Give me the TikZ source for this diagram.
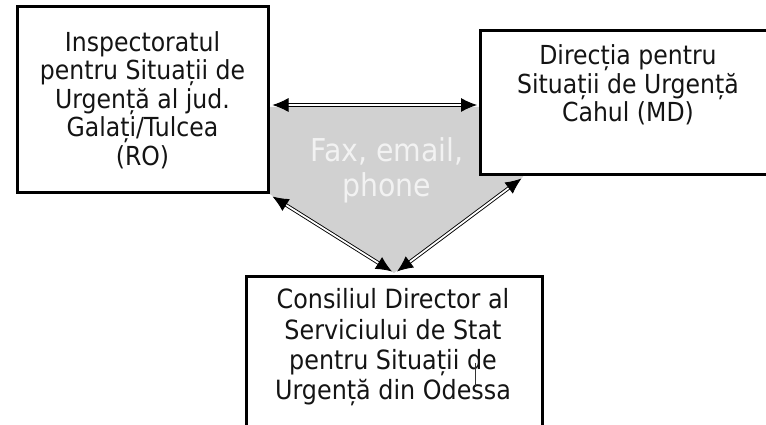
\documentclass[tikz,border=0pt]{standalone}
\usepackage{fontspec}
\setmainfont{DejaVu Sans}[FakeStretch=0.9]
\usetikzlibrary{arrows.meta}
\begin{document}
\begin{tikzpicture}[x=1pt,y=1pt,
  box/.style={draw=black, line width=3pt, fill=white, inner sep=0pt},
  boxtext/.style={align=center, font=\fontsize{26.2}{28.6}\selectfont, text=black!92, inner sep=0pt},
  tipshape/.style={},
  link/.style={draw=black, line width=0.9pt, double=white, double distance=1.8pt,
    {Latex[length=16pt,width=14pt]}-{Latex[length=16pt,width=14pt]}}
]
\useasboundingbox (0,0) rectangle (766,425);
\clip (0,0) rectangle (766,425);
\fill[white] (0,0) rectangle (766,425);
% gray pentagon
\fill[black!18] (268,318) -- (523,318) -- (523,248) -- (394,152) -- (268,232) -- cycle;
% boxes
\node[box, minimum width=251pt, minimum height=186pt] (ro) at (142.5,325) {};
\node[boxtext] (rotext) at (ro.center) {Inspectoratul\\pentru Situații de\\Urgență al jud.\\Galați/Tulcea\\(RO)};
\node[box, minimum width=300pt, minimum height=144pt] (md) at (630,322) {};
\node[boxtext] (mdtext) at (628,340) {Direcția pentru\\Situații de Urgență\\Cahul (MD)};
\node[box, minimum width=296pt, minimum height=168pt] (od) at (394,64) {};
\node[boxtext, font=\fontsize{26.5}{30.3}\selectfont] (odtext) at (393,77.5) {Consiliul Director al\\Serviciului de Stat\\pentru Situații de\\Urgență din Odessa};
\node[align=center, text=black!5, inner sep=0pt, font=\fontsize{31.5}{35}\selectfont] (fax) at (387,255) {Fax, email,\\phone};
% connectors
\draw[link] ([xshift=3pt,yshift=-5pt]ro.east) -- ([xshift=-1.5pt,yshift=-2pt]md.west);
\draw[link] ([xshift=3pt,yshift=-2pt]ro.south east) -- ([xshift=-2pt,yshift=4pt]od.north);
\draw[link] ([xshift=43pt,yshift=-2pt]md.south west) -- ([xshift=3pt,yshift=4pt]od.north);
% stray cursor mark
\draw[line width=0.8pt, black!80] (475,62) -- (475,38);
\end{tikzpicture}
\end{document}
